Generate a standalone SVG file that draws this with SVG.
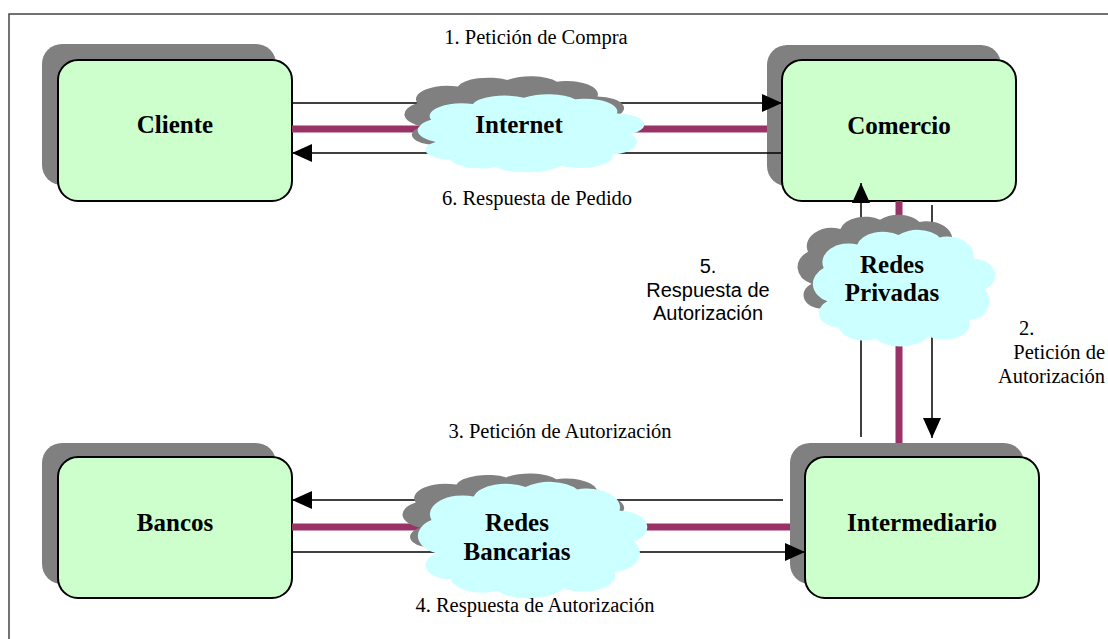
<svg xmlns="http://www.w3.org/2000/svg" xmlns:xlink="http://www.w3.org/1999/xlink" width="1108" height="639" viewBox="0 0 1108 639">
<style>
.shadow{fill:#808080;}
.box{fill:#CCFFCC;stroke:#000;stroke-width:2;}
.title{font-family:"Liberation Serif","Times New Roman",serif;font-weight:bold;font-size:25px;fill:#000;text-anchor:middle;}
.lbl{font-family:"Liberation Serif","Times New Roman",serif;font-size:20.5px;fill:#000;text-anchor:middle;}
.lbls{font-family:"Liberation Sans",Arial,sans-serif;font-size:20px;fill:#000;text-anchor:middle;}
.start{text-anchor:start;}
.end{text-anchor:end;}
.ln{stroke:#000;stroke-width:1.5;fill:none;}
.arr{marker-end:url(#ah);}
.pipe{stroke:#993366;stroke-width:7;fill:none;}
.cgray{fill:#808080;}
.ccyan{fill:#CCFFFF;}
</style>
<defs>
<marker id="ah" markerUnits="userSpaceOnUse" markerWidth="20" markerHeight="18" refX="20" refY="9" orient="auto">
<path d="M0,0 L20,9 L0,18 Z" fill="#000"/>
</marker>
<path id="cloud" d="M 12 62 A 13 16 0 0 1 10 34 A 14 16 0 0 1 28 14 A 14 14 0 0 1 50 6 A 14 14 0 0 1 72 8 A 14 16 0 0 1 90 26 A 12 14 0 0 1 96 52 A 12 16 0 0 1 88 78 A 14 14 0 0 1 66 92 A 16 14 0 0 1 38 94 A 14 14 0 0 1 18 84 A 10 12 0 0 1 12 62 Z"/>
</defs>
<rect width="1108" height="639" fill="#fff"/>
<path d="M9,639 L9,14 L1108,14" fill="none" stroke="#444" stroke-width="1.5"/>

<g id="cliente">
<rect class="shadow" x="42" y="44" width="234" height="141" rx="20"/>
<rect class="box" x="58" y="60" width="234" height="141" rx="20"/>
<text class="title" x="175" y="133">Cliente</text>
</g>
<g id="comercio">
<rect class="shadow" x="767" y="45" width="234" height="141" rx="20"/>
<rect class="box" x="782" y="60" width="234" height="141" rx="20"/>
<text class="title" x="899" y="134">Comercio</text>
</g>
<g id="bancos">
<rect class="shadow" x="42" y="443" width="234" height="141" rx="20"/>
<rect class="box" x="58" y="457" width="234" height="141" rx="20"/>
<text class="title" x="175" y="531">Bancos</text>
</g>
<g id="intermediario">
<rect class="shadow" x="790" y="443" width="234" height="141" rx="20"/>
<rect class="box" x="805" y="457" width="234" height="141" rx="20"/>
<text class="title" x="922" y="531">Intermediario</text>
</g>

<g id="connectors">
<line class="ln arr" x1="292" y1="103" x2="782" y2="103"/>
<line class="pipe" x1="292" y1="129" x2="767" y2="129"/>
<line class="ln arr" x1="782" y1="153" x2="292" y2="153"/>
<line class="ln arr" x1="861" y1="437" x2="861" y2="183"/>
<line class="pipe" x1="899" y1="201" x2="899" y2="443"/>
<line class="ln arr" x1="932" y1="205" x2="932" y2="438"/>
<line class="ln arr" x1="783" y1="500" x2="292" y2="500"/>
<line class="pipe" x1="292" y1="527" x2="790" y2="527"/>
<line class="ln arr" x1="292" y1="552" x2="805" y2="552"/>
</g>

<g id="internet">
<use xlink:href="#cloud" class="cgray" transform="translate(395,75) scale(2.25,0.83)"/>
<use xlink:href="#cloud" class="ccyan" transform="translate(408,93) scale(2.32,0.79)"/>
<ellipse class="ccyan" cx="470" cy="162" rx="11" ry="6"/>
<text class="title" x="519" y="133">Internet</text>
</g>
<g id="redes-privadas">
<use xlink:href="#cloud" class="cgray" transform="translate(790,213) scale(1.8,1.14)"/>
<use xlink:href="#cloud" class="ccyan" transform="translate(805,228) scale(1.87,1.18)"/>
<text class="title" x="892" y="273">Redes</text>
<text class="title" x="892" y="301">Privadas</text>
</g>
<g id="redes-bancarias">
<use xlink:href="#cloud" class="cgray" transform="translate(393,472) scale(2.27,0.9)"/>
<use xlink:href="#cloud" class="ccyan" transform="translate(408,480) scale(2.35,1.18)"/>
<text class="title" x="517" y="531">Redes</text>
<text class="title" x="517" y="560">Bancarias</text>
</g>

<g id="labels">
<text class="lbl" x="536" y="44">1. Petición de Compra</text>
<text class="lbl" x="537" y="205">6. Respuesta de Pedido</text>
<text class="lbl" x="560" y="438">3. Petición de Autorización</text>
<text class="lbl" x="535" y="612">4. Respuesta de Autorización</text>
<text class="lbls" x="708" y="273">5.</text>
<text class="lbls" x="708" y="297">Respuesta de</text>
<text class="lbls" x="708" y="320">Autorización</text>
<text class="lbl start" x="1019" y="335">2.</text>
<text class="lbl end" x="1105" y="359">Petición de</text>
<text class="lbl end" x="1105" y="383">Autorización</text>
</g>
</svg>
